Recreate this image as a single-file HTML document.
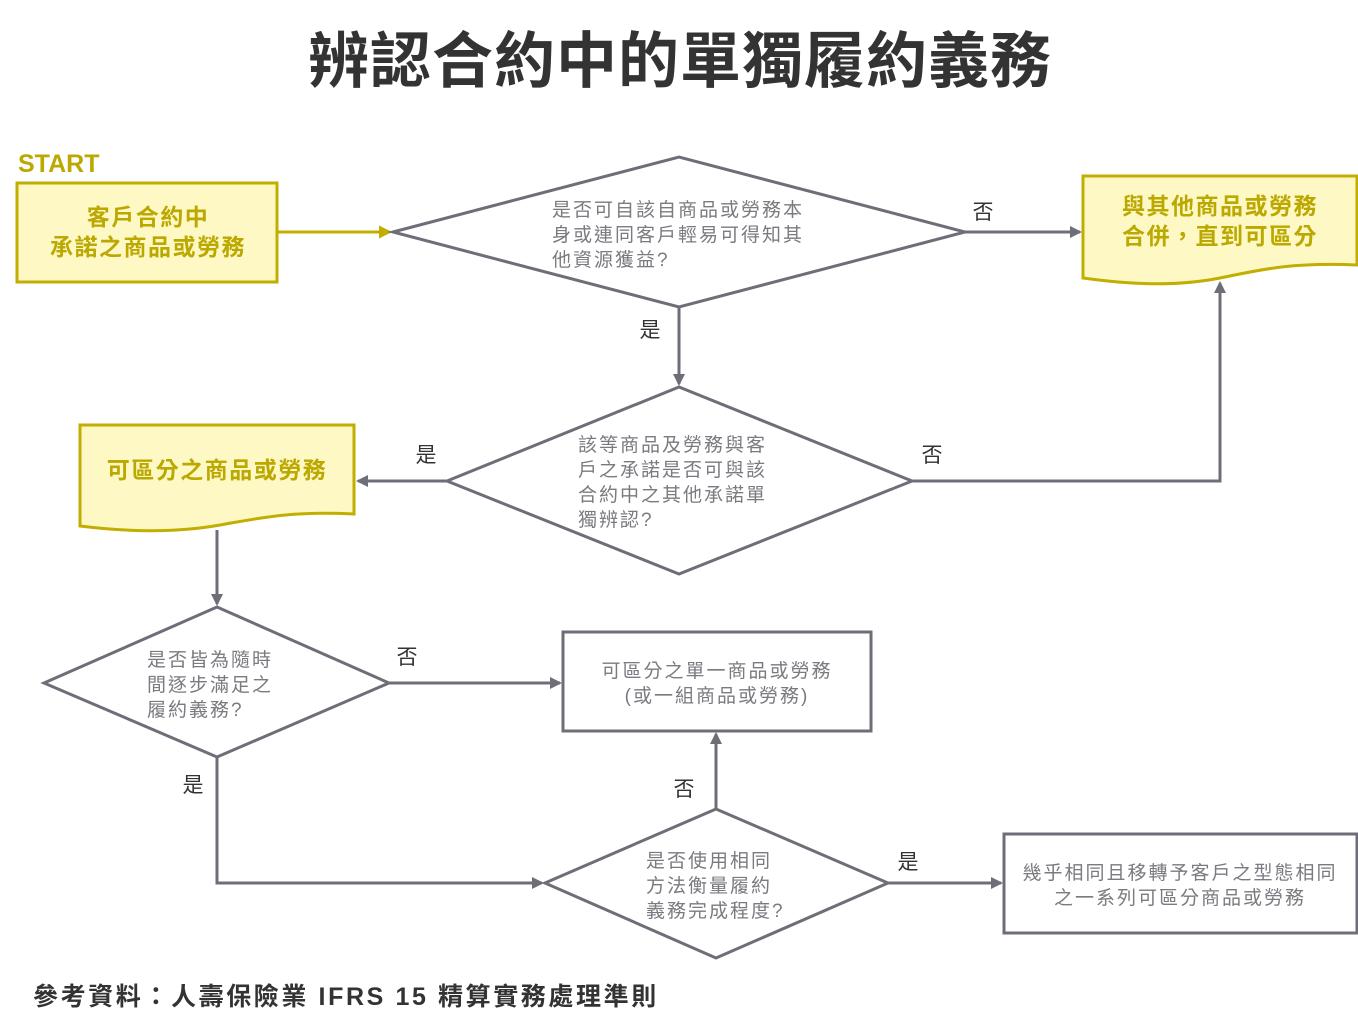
<!DOCTYPE html>
<html><head><meta charset="utf-8"><style>
body{margin:0;background:#fff;}
svg{display:block;}
text{font-family:"Liberation Sans","Noto Sans CJK TC",sans-serif;}
.g{fill:#7a7a80;font-size:19px;letter-spacing:2px;}
.y{fill:#bba800;font-size:23px;font-weight:bold;letter-spacing:1.5px;}
.l{fill:#333;font-size:21px;}
</style></head><body>
<svg width="1358" height="1030" viewBox="0 0 1358 1030">
<defs>
<marker id="ag" markerWidth="12" markerHeight="12" refX="10" refY="6" orient="auto" markerUnits="userSpaceOnUse"><path d="M0,0 L12,6 L0,12 z" fill="#6e6e78"/></marker>
<marker id="ay" markerWidth="13" markerHeight="13" refX="11" refY="6.5" orient="auto" markerUnits="userSpaceOnUse"><path d="M0,0 L13,6.5 L0,13 z" fill="#c2ae00"/></marker>
</defs>
<text x="680" y="82" text-anchor="middle" font-size="61" font-weight="bold" fill="#333" letter-spacing="1">辨認合約中的單獨履約義務</text>
<text x="18" y="172" font-size="25" font-weight="bold" fill="#bba800">START</text>
<rect x="17" y="183" width="260" height="99" fill="#fdf8c4" stroke="#c2ae00" stroke-width="3"/>
<text x="148" y="225" text-anchor="middle" class="y">客戶合約中</text>
<text x="148" y="255" text-anchor="middle" class="y">承諾之商品或勞務</text>
<line x1="277" y1="232" x2="390" y2="232" stroke="#c2ae00" stroke-width="3" marker-end="url(#ay)"/>
<g fill="none" stroke="#6e6e78" stroke-width="3">
<polygon points="393,232 679,157 965,232 679,307"/>
<polygon points="447,481 679,387 912,481 679,574"/>
<polygon points="44,683 217,607 389,683 217,757"/>
<polygon points="545,883 716,809 888,883 716,958"/>
<line x1="965" y1="232" x2="1080" y2="232" marker-end="url(#ag)"/>
<line x1="679" y1="307" x2="679" y2="384" marker-end="url(#ag)"/>
<polyline points="912,481 1220,481 1220,283" marker-end="url(#ag)"/>
<line x1="447" y1="481" x2="358" y2="481" marker-end="url(#ag)"/>
<line x1="217" y1="530" x2="217" y2="604" marker-end="url(#ag)"/>
<line x1="389" y1="683" x2="560" y2="683" marker-end="url(#ag)"/>
<polyline points="217,757 217,883 542,883" marker-end="url(#ag)"/>
<line x1="716" y1="809" x2="716" y2="734" marker-end="url(#ag)"/>
<line x1="888" y1="883" x2="1001" y2="883" marker-end="url(#ag)"/>
<rect x="563" y="632" width="308" height="99"/>
<rect x="1004" y="834" width="353" height="99"/>
</g>
<path d="M1083,176 L1357,176 L1357,265 C1290,262 1260,270 1220,278 C1170,288 1120,283 1083,278 Z" fill="#fdf8c4" stroke="#c2ae00" stroke-width="3"/>
<text x="1220" y="214" text-anchor="middle" class="y">與其他商品或勞務</text>
<text x="1220" y="244" text-anchor="middle" class="y">合併，直到可區分</text>
<path d="M80,425 L354,425 L354,514 C290,511 260,518 220,525 C170,534 120,531 80,526 Z" fill="#fdf8c4" stroke="#c2ae00" stroke-width="3"/>
<text x="217" y="478" text-anchor="middle" class="y">可區分之商品或勞務</text>
<text x="552" y="216" class="g">是否可自該自商品或勞務本</text>
<text x="552" y="241" class="g">身或連同客戶輕易可得知其</text>
<text x="552" y="266" class="g">他資源獲益?</text>
<text x="578" y="451" class="g">該等商品及勞務與客</text>
<text x="578" y="476" class="g">戶之承諾是否可與該</text>
<text x="578" y="501" class="g">合約中之其他承諾單</text>
<text x="578" y="526" class="g">獨辨認?</text>
<text x="147" y="666" class="g">是否皆為隨時</text>
<text x="147" y="691" class="g">間逐步滿足之</text>
<text x="147" y="716" class="g">履約義務?</text>
<text x="646" y="867" class="g">是否使用相同</text>
<text x="646" y="892" class="g">方法衡量履約</text>
<text x="646" y="917" class="g">義務完成程度?</text>
<text x="717" y="677" text-anchor="middle" class="g">可區分之單一商品或勞務</text>
<text x="717" y="702" text-anchor="middle" class="g">(或一組商品或勞務)</text>
<text x="1180" y="879" text-anchor="middle" class="g">幾乎相同且移轉予客戶之型態相同</text>
<text x="1180" y="904" text-anchor="middle" class="g">之一系列可區分商品或勞務</text>
<text x="983" y="219" text-anchor="middle" class="l">否</text>
<text x="650" y="337" text-anchor="middle" class="l">是</text>
<text x="932" y="462" text-anchor="middle" class="l">否</text>
<text x="426" y="462" text-anchor="middle" class="l">是</text>
<text x="407" y="664" text-anchor="middle" class="l">否</text>
<text x="193" y="792" text-anchor="middle" class="l">是</text>
<text x="684" y="796" text-anchor="middle" class="l">否</text>
<text x="908" y="869" text-anchor="middle" class="l">是</text>
<text x="33" y="1005" font-size="25" font-weight="bold" fill="#333" letter-spacing="2.6">參考資料：人壽保險業 IFRS 15 精算實務處理準則</text>
</svg>
</body></html>
